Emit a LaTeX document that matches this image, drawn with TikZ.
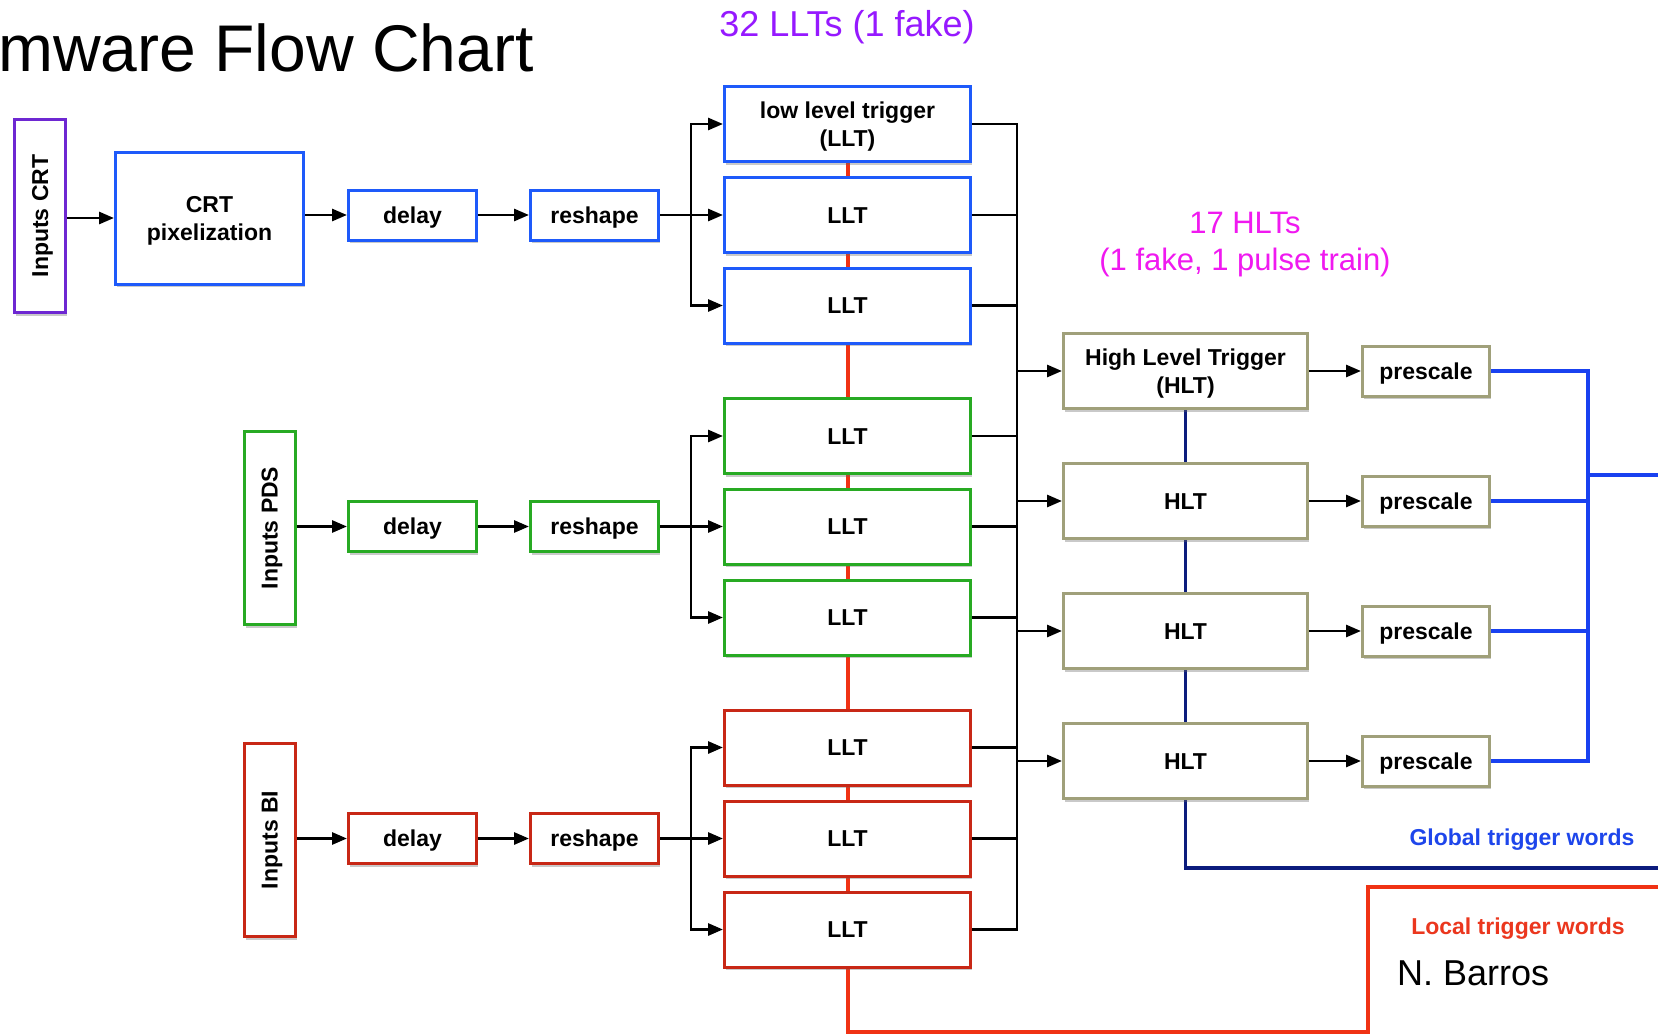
\documentclass[tikz,border=0pt]{standalone}
\usepackage{fontspec}
\setmainfont{Liberation Sans}
\usetikzlibrary{arrows.meta,shadows,backgrounds}
\definecolor{cBlue}{RGB}{30,90,250}
\definecolor{cBlueLine}{RGB}{25,65,240}
\definecolor{cPurple}{RGB}{110,40,210}
\definecolor{cGreen}{RGB}{40,170,35}
\definecolor{cRedBox}{RGB}{200,40,22}
\definecolor{cRedLine}{RGB}{240,50,20}
\definecolor{cOlive}{RGB}{160,160,122}
\definecolor{cNavy}{RGB}{12,28,125}
\definecolor{cLLT}{RGB}{150,25,255}
\definecolor{cHLT}{RGB}{240,25,240}
\definecolor{cGlob}{RGB}{30,70,235}
\definecolor{cLoc}{RGB}{235,55,30}
\newcommand{\bxf}{\fontsize{23}{28}\selectfont\bfseries}
\newcommand{\titlef}{\fontsize{66}{70}\selectfont}
\newcommand{\llf}{\fontsize{36}{40}\selectfont}
\newcommand{\hlf}{\fontsize{31}{35}\selectfont}
\newcommand{\nbf}{\fontsize{36}{40}\selectfont}
\begin{document}
\begin{tikzpicture}[x=1pt,y=-1pt,
  box/.style={draw, line width=3pt, fill=white, inner sep=0pt, align=center, font=\bxf, text=black,
    drop shadow={shadow xshift=1.5pt, shadow yshift=-3pt, opacity=0.35, fill=black!60}},
  sl/.style={text height=20pt, text depth=4pt},
  ml/.style={text height=48pt, text depth=4pt},
  inbox/.style={box, sl, rotate=90, minimum width=193pt, minimum height=51pt},
  small/.style={box, sl, minimum width=128pt, minimum height=50pt},
  llt/.style={box, sl, minimum width=246pt, minimum height=75pt},
  hlt/.style={box, sl, draw=cOlive, minimum width=244pt, minimum height=75pt},
  pre/.style={box, sl, draw=cOlive, minimum width=127pt, minimum height=50pt},
  ln/.style={line width=2.8pt, black},
  arr/.style={ln, -{Triangle[length=15pt,width=12pt]}},
  lbl/.style={inner sep=0pt}
]
\useasboundingbox (0,0) rectangle (1658,1036);

% title and labels
\node[lbl, anchor=base west, font=\titlef] (title) at (-2,71) {mware Flow Chart};
\node[lbl, anchor=base, font=\llf, text=cLLT] (llts) at (847,36) {32 LLTs (1 fake)};
\node[lbl, anchor=base, font=\hlf, text=cHLT] (hlts) at (1245,233) {17 HLTs};
\node[lbl, anchor=base, font=\hlf, text=cHLT] (hlts2) at (1245,270) {(1 fake, 1 pulse train)};

% CRT chain
\node[inbox, draw=cPurple] (crtin) at (40,216) {Inputs CRT};
\node[box, ml, draw=cBlue, minimum width=188pt, minimum height=132pt] (pix) at (209.5,218) {CRT\\pixelization};
\node[small, draw=cBlue] (d1) at (412.5,215) {delay};
\node[small, draw=cBlue] (r1) at (594.5,215) {reshape};

% PDS chain
\node[inbox, draw=cGreen] (pdsin) at (269.5,528) {Inputs PDS};
\node[small, draw=cGreen] (d2) at (412.5,526.5) {delay};
\node[small, draw=cGreen] (r2) at (594.5,526.5) {reshape};

% BI chain
\node[inbox, draw=cRedBox] (biin) at (269.5,840) {Inputs BI};
\node[small, draw=cRedBox] (d3) at (412.5,838.5) {delay};
\node[small, draw=cRedBox] (r3) at (594.5,838.5) {reshape};

% LLTs
\node[llt, ml, draw=cBlue] (L1) at (847.5,124) {low level trigger\\(LLT)};
\node[llt, draw=cBlue] (L2) at (847.5,215) {LLT};
\node[llt, draw=cBlue] (L3) at (847.5,305.5) {LLT};
\node[llt, draw=cGreen] (L4) at (847.5,436) {LLT};
\node[llt, draw=cGreen] (L5) at (847.5,526.5) {LLT};
\node[llt, draw=cGreen] (L6) at (847.5,617.5) {LLT};
\node[llt, draw=cRedBox] (L7) at (847.5,747.5) {LLT};
\node[llt, draw=cRedBox] (L8) at (847.5,838.5) {LLT};
\node[llt, draw=cRedBox] (L9) at (847.5,929.5) {LLT};

% HLTs and prescales
\node[hlt, ml] (H1) at (1185.5,371) {High Level Trigger\\(HLT)};
\node[hlt] (H2) at (1185.5,501) {HLT};
\node[hlt] (H3) at (1185.5,631) {HLT};
\node[hlt] (H4) at (1185.5,761) {HLT};
\node[pre] (P1) at (1426,371) {prescale};
\node[pre] (P2) at (1426,501) {prescale};
\node[pre] (P3) at (1426,631) {prescale};
\node[pre] (P4) at (1426,761) {prescale};

% word labels
\node[lbl, anchor=base, font=\bxf, text=cGlob] (glob) at (1522,845) {Global trigger words};
\node[lbl, anchor=base, font=\bxf, text=cLoc] (loc) at (1518,934) {Local trigger words};
\node[lbl, anchor=base west, font=\nbf] (nb) at (1397,985) {N. Barros};

% coordinates
\coordinate (f1) at (691,0);
\coordinate (bus) at (1017,0);
\coordinate (bj) at (1588,0);
\coordinate (gw) at (1665,475);
\coordinate (nv) at (1665,868);
\coordinate (rb) at (1368,1032);
\coordinate (rt) at (1665,887);

% background lines
\begin{pgfonlayer}{background}
\fill[white] (0,0) rectangle (1658,1036);
\draw[cRedLine, line width=4pt] (L1.south) -- (L9.south |- rb) -- (rb) |- (rt);
\draw[cNavy, line width=3.5pt] (H1.south) -- (H4.south |- nv) -- (nv);
\end{pgfonlayer}

% input chains
\draw[arr] (crtin.south |- pix.west) -- (pix.west);
\draw[arr] (pix.east |- d1.west) -- (d1.west);
\draw[arr] (d1.east) -- (r1.west);
\draw[arr] (pdsin.south |- d2.west) -- (d2.west);
\draw[arr] (d2.east) -- (r2.west);
\draw[arr] (biin.south |- d3.west) -- (d3.west);
\draw[arr] (d3.east) -- (r3.west);

% fan-out
\draw[arr] (r1.east) -- (L2.west);
\draw[arr] (r1.east -| f1) |- (L1.west);
\draw[arr] (r1.east -| f1) |- (L3.west);
\draw[arr] (r2.east) -- (L5.west);
\draw[arr] (r2.east -| f1) |- (L4.west);
\draw[arr] (r2.east -| f1) |- (L6.west);
\draw[arr] (r3.east) -- (L8.west);
\draw[arr] (r3.east -| f1) |- (L7.west);
\draw[arr] (r3.east -| f1) |- (L9.west);

% fan-in bus
\draw[ln] (L1.east) -| (bus |- L9.east) -- (L9.east);
\foreach \i in {2,...,8} \draw[ln] (L\i.east) -- (L\i.east -| bus);
\foreach \i in {1,...,4} {
  \draw[arr] (H\i.west -| bus) -- (H\i.west);
  \draw[arr] (H\i.east) -- (P\i.west);
}

% global trigger words bus
\draw[cBlueLine, line width=4pt] (P1.east) -| (bj |- P4.east) -- (P4.east);
\draw[cBlueLine, line width=4pt] (P2.east) -- (P2.east -| bj);
\draw[cBlueLine, line width=4pt] (P3.east) -- (P3.east -| bj);
\draw[cBlueLine, line width=4pt] (gw -| bj) -- (gw);
\end{tikzpicture}
\end{document}
